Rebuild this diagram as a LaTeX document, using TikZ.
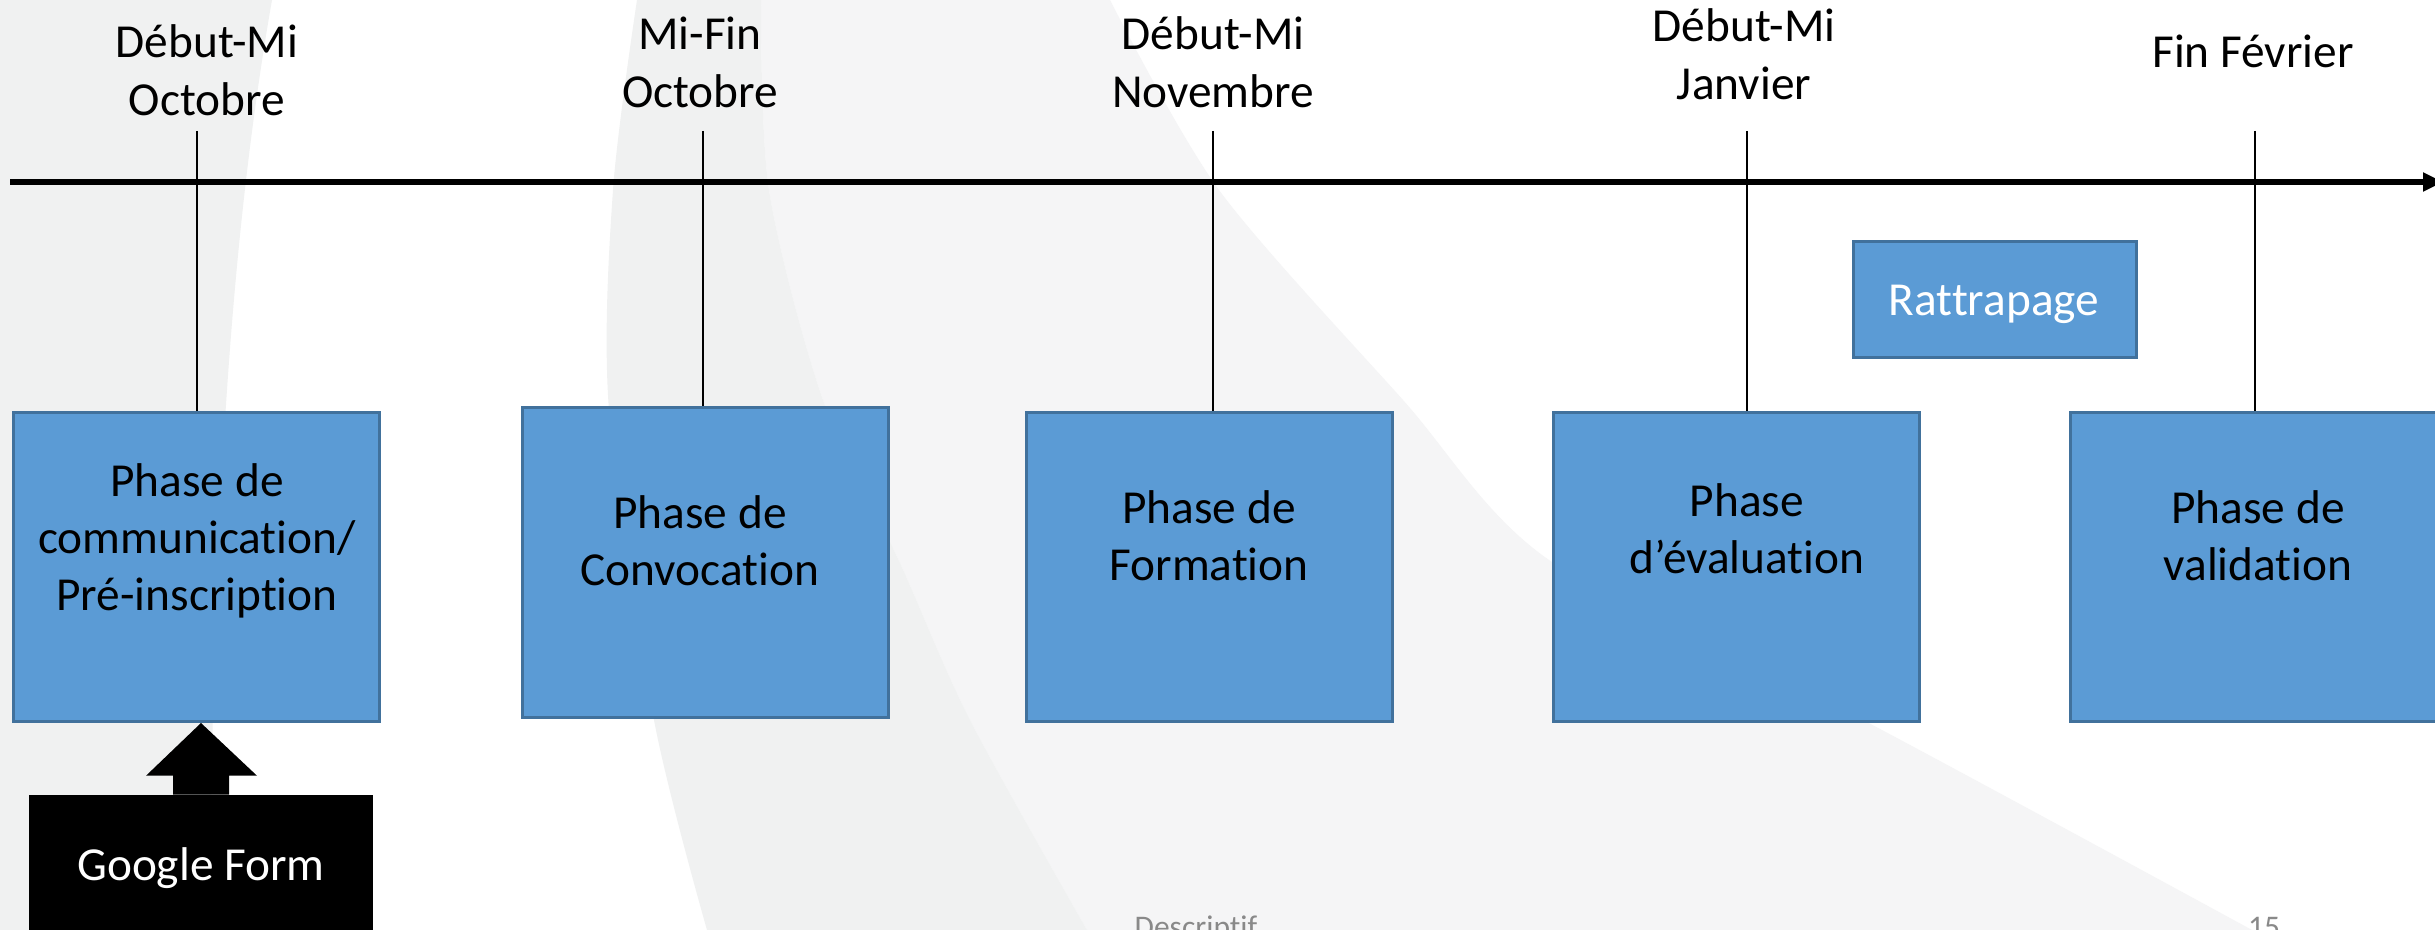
\documentclass[tikz,border=0pt]{standalone}
\usepackage{fontspec}
\setmainfont{Carlito}[Ligatures={NoCommon,NoContextual,NoRare}]
\usetikzlibrary{arrows.meta,calc}
\definecolor{boxfill}{HTML}{5B9BD5}
\definecolor{boxline}{HTML}{41719C}
\definecolor{bgleft}{HTML}{F0F1F1}
\definecolor{bgband}{HTML}{F0F1F1}
\definecolor{bglight}{HTML}{F5F5F6}
\definecolor{footgray}{HTML}{898989}
\newcommand\mylines[1]{\begin{tabular}[t]{@{}c@{}}#1\end{tabular}}
\begin{document}
\begin{tikzpicture}[x=0.75pt,y=-0.75pt,
  phasebox/.style={draw=boxline,fill=boxfill,line width=2.25pt,inner sep=0pt,
    minimum width=274.5pt,minimum height=231.75pt},
  smallbox/.style={draw=boxline,fill=boxfill,line width=2.25pt,inner sep=0pt,
    minimum width=212.25pt,minimum height=87pt},
  blackbox/.style={fill=black,inner sep=0pt,minimum width=258pt,minimum height=108.75pt},
  bigtext/.style={inner sep=0pt,anchor=base,font=\fontsize{35.5}{43.1}\selectfont},
  foottext/.style={inner sep=0pt,anchor=base,text=footgray,font=\fontsize{23.6}{28.7}\selectfont},
  tickline/.style={line width=0.8pt,black},
  timeline/.style={line width=4.3pt,-{Triangle[length=15pt,width=13.5pt]}}]
\path[use as bounding box] (0,0) rectangle (2435,930);
\clip (0,0) rectangle (2435,930);
% background
\fill[white] (0,0) rectangle (2435,930);
\fill[bgleft] (0,0) -- (272,0) .. controls (228,250) and (212,550) .. (210,930) -- (0,930) -- cycle;
\fill[bglight] plot[smooth] coordinates {(761,0) (769,190) (823,400) (900,563) (970,720) (1087,930)}
  -- plot[smooth] coordinates {(2252,930) (1863,720) (1549,560) (1403,400) (1219,190) (1110,0)} -- cycle;
\fill[bgband] plot[smooth] coordinates {(637,0) (613,190) (609,410) (654,720) (707,930)}
  -- plot[smooth] coordinates {(1087,930) (970,720) (900,563) (823,400) (769,190) (761,0)} -- cycle;
% timeline
\coordinate (ax0) at (10,182);
\coordinate (ax1) at (2443,182);
\draw[timeline] (ax0) -- (ax1);
% boxes
\node[phasebox] (b1) at (196,567) {};
\node[phasebox] (b2) at (705.5,562.5) {};
\node[phasebox] (b3) at (1209.5,567) {};
\node[phasebox] (b4) at (1736,567) {};
\node[phasebox] (b5) at (2253.5,567) {};
\node[smallbox] (rt) at (1995,299.5) {};
% ticks
\coordinate (t1) at (197,131);
\coordinate (t2) at (703,131);
\coordinate (t3) at (1213,131);
\coordinate (t4) at (1747,131);
\coordinate (t5) at (2255,131);
\draw[tickline] (t1) -- (t1 |- b1.north);
\draw[tickline] (t2) -- (t2 |- b2.north);
\draw[tickline] (t3) -- (t3 |- b3.north);
\draw[tickline] (t4) -- (t4 |- b4.north);
\draw[tickline] (t5) -- (t5 |- b5.north);
% date labels
\node[bigtext] (l1) at (207,58) {\mylines{Début-Mi\\Octobre}};
\node[bigtext] (l2) at (700,50) {\mylines{Mi-Fin\\Octobre}};
\node[bigtext] (l3) at (1213,50) {\mylines{Début-Mi\\Novembre}};
\node[bigtext] (l4) at (1744,42) {\mylines{Début-Mi\\Janvier}};
\node[bigtext] (l5) at (2253,68) {Fin Février};
% box texts
\node[bigtext] (p1) at (197,496) {\mylines{Phase de\\communication/\\Pré-inscription}};
\node[bigtext] (p2) at (700,528) {\mylines{Phase de\\Convocation}};
\node[bigtext] (p3) at (1209,523) {\mylines{Phase de\\Formation}};
\node[bigtext] (p4) at (1747,516) {\mylines{Phase\\d’évaluation}};
\node[bigtext] (p5) at (2258,523) {\mylines{Phase de\\validation}};
\node[bigtext,text=white] (rtt) at (1994,316) {Rattrapage};
% Google Form
\node[blackbox] (gf) at (201,867.5) {};
\node[bigtext,text=white] (gft) at (201,880) {Google Form};
\coordinate (gtip) at (gf.north |- b1.south);
\fill[black] ($(gf.north)+(-28,0)$) -- ($(gf.north)+(-28,-19)$) -- ($(gf.north)+(-55,-19)$)
  -- (gtip) -- ($(gf.north)+(56,-19)$) -- ($(gf.north)+(28,-19)$) -- ($(gf.north)+(28,0)$) -- cycle;
% footer
\node[foottext] (ft) at (1196,937) {Descriptif};
\node[foottext] (pg) at (2264,937) {15};
\end{tikzpicture}
\end{document}
